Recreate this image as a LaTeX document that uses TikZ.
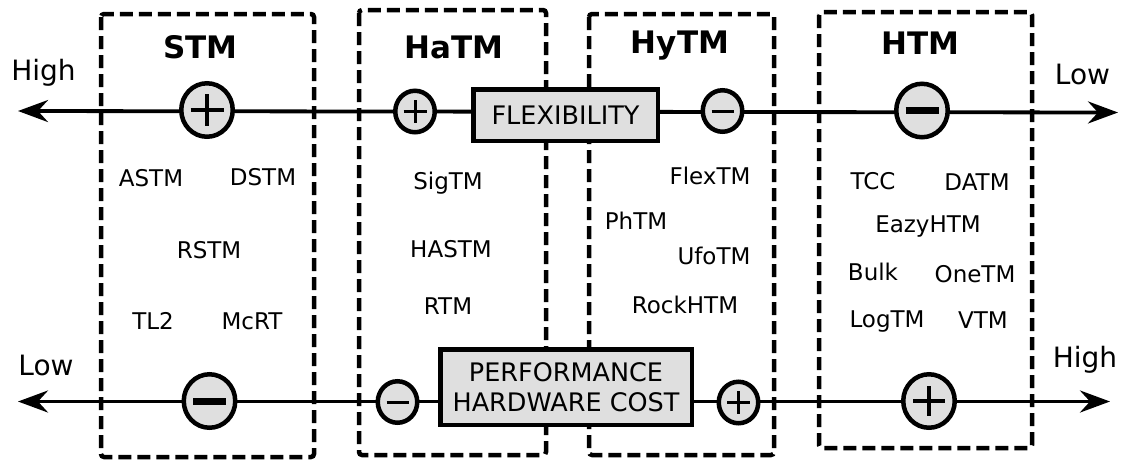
\documentclass[tikz,border=0pt]{standalone}
\usepackage{fontspec}
\setmainfont{DejaVu Sans}
\usetikzlibrary{arrows.meta,shapes.geometric}
\begin{document}
\begin{tikzpicture}[x=1pt,y=-1pt,
 grp/.style={draw, line width=4.5pt, dash pattern=on 13pt off 6pt, rounded corners=3pt},
 axisline/.style={line width=3.8pt, {Stealth[length=30pt,width=22pt,inset=10pt]}-{Stealth[length=30pt,width=22pt,inset=10pt]}},
 bigc/.style={ellipse, draw, line width=4.5pt, fill=gray!25, minimum width=51.5pt, minimum height=53.5pt, inner sep=0pt},
 smallc/.style={ellipse, draw, line width=4.5pt, fill=gray!25, minimum width=39.5pt, minimum height=41.5pt, inner sep=0pt},
 lbl/.style={font=\fontsize{23}{25}\selectfont},
 ttl/.style={font=\bfseries\fontsize{31}{34}\selectfont},
 endlbl/.style={font=\fontsize{28}{30}\selectfont},
 cat/.style={draw, line width=4.5pt, fill=gray!25, font=\fontsize{25.5}{30.5}\selectfont, align=center, inner sep=0pt},
 sym/.style={line width=4.5pt},
 symthin/.style={line width=3pt}]
\useasboundingbox (0,0) rectangle (1121,459);
% groups
\draw[grp] (101,14) rectangle (314,457);
\draw[grp] (359,10) rectangle (546,455);
\draw[grp] (589,14) rectangle (774,455);
\draw[grp] (819,12) rectangle (1032,448);
% axes
\coordinate (tl) at (18,111);
\coordinate (tr) at (1118,112.5);
\coordinate (bl) at (18,401.5);
\coordinate (br) at (1110,401.5);
\draw[axisline] (tl) -- (tr);
\draw[axisline] (bl) -- (br);
% top circles
\node[bigc] (t1) at (207,110) {};
\node[smallc] (t2) at (415,111.5) {};
\node[smallc] (t3) at (722.5,111) {};
\node[bigc] (t4) at (922,110.5) {};
\draw[sym] (t1.center) ++(-16.5,0) -- ++(33,0) (t1.center) ++(0,-16) -- ++(0,32);
\draw[symthin] (t2.center) ++(-11.5,0) -- ++(23,0) (t2.center) ++(0,-11.5) -- ++(0,23);
\draw[symthin] (t3.center) ++(-11,0) -- ++(22,0);
\draw[line width=7pt] (t4.center) ++(-16.5,0) -- ++(33,0);
% bottom circles
\node[bigc] (b1) at (209.5,401) {};
\node[smallc] (b2) at (397.5,402) {};
\node[smallc] (b3) at (738.5,402.5) {};
\node[bigc] (b4) at (929,401) {};
\draw[line width=7pt] (b1.center) ++(-16.5,0) -- ++(33,0);
\draw[symthin] (b2.center) ++(-11,0) -- ++(22,0);
\draw[symthin] (b3.center) ++(-11.5,0) -- ++(23,0) (b3.center) ++(0,-11.5) -- ++(0,23);
\draw[sym] (b4.center) ++(-16,0) -- ++(32,0) (b4.center) ++(0,-15) -- ++(0,30);
% category boxes
\node[cat, minimum width=184.5pt, minimum height=51.5pt] (flex) at (565.5,115) {FLEXIBILITY};
\node[cat, minimum width=251.5pt, minimum height=75.5pt] (perf) at (566,387) {PERFORMANCE\\HARDWARE COST};
% end labels
\node[endlbl] (hi1) at (43.5,73) {High};
\node[endlbl] (lo1) at (1082.5,74) {Low};
\node[endlbl] (lo2) at (46,365) {Low};
\node[endlbl] (hi2) at (1085,360) {High};
% titles
\node[ttl] (stm) at (200.5,47) {STM};
\node[ttl] (hatm) at (454,47) {HaTM};
\node[ttl] (hytm) at (680,46) {HyTM};
\node[ttl] (htm) at (920.5,43) {HTM};
% STM
\node[lbl] (astm) at (151,178) {ASTM};
\node[lbl] (dstm) at (263,177) {DSTM};
\node[lbl] (rstm) at (209,250) {RSTM};
\node[lbl] (tl2) at (153,321) {TL2};
\node[lbl] (mcrt) at (252,321) {McRT};
% HaTM
\node[lbl] (sigtm) at (448,183) {SigTM};
\node[lbl] (hastm) at (451,249) {HASTM};
\node[lbl] (rtm) at (448,306) {RTM};
% HyTM
\node[lbl] (flextm) at (710,176) {FlexTM};
\node[lbl] (phtm) at (636,221) {PhTM};
\node[lbl] (ufotm) at (714,256) {UfoTM};
\node[lbl] (rockhtm) at (685,305) {RockHTM};
% HTM
\node[lbl] (tcc) at (873,181) {TCC};
\node[lbl] (datm) at (977,182) {DATM};
\node[lbl] (eazy) at (928,226) {EazyHTM};
\node[lbl] (bulk) at (873,272) {Bulk};
\node[lbl] (onetm) at (975,274) {OneTM};
\node[lbl] (logtm) at (887,321) {LogTM};
\node[lbl] (vtm) at (983,320) {VTM};
\end{tikzpicture}
\end{document}
